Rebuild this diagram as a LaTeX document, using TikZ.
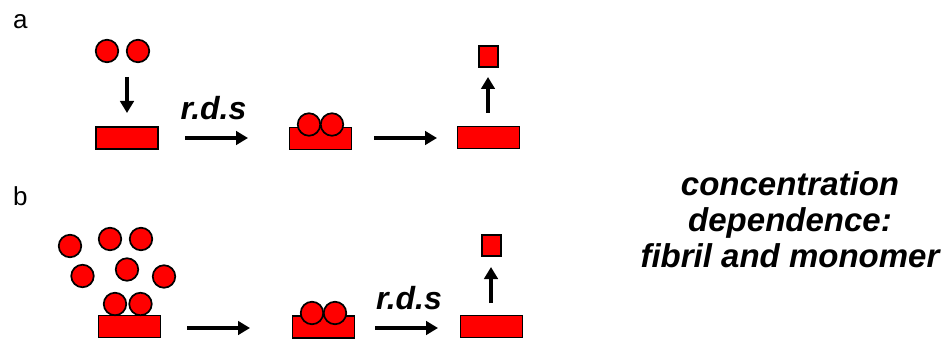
\documentclass[tikz,border=0pt]{standalone}
\usepackage{fontspec}
\setmainfont{Liberation Sans}
\usetikzlibrary{arrows.meta}
\definecolor{protein}{RGB}{255,0,0}
\tikzset{
  mono/.style={circle, draw=black, fill=protein, line width=1.7pt, minimum size=22.5pt, inner sep=0pt},
  fibril/.style={rectangle, draw=black, fill=protein, line width=1.7pt, inner sep=0pt,
                 minimum width=62pt, minimum height=22pt},
  seed/.style={rectangle, draw=black, fill=protein, line width=1.7pt, inner sep=0pt,
               minimum width=19pt, minimum height=21pt},
  conn/.style={line width=3.8pt, -{Triangle[length=12pt,width=13.5pt]}},
  rds/.style={font=\fontsize{32}{36}\selectfont\bfseries\itshape, anchor=base, inner sep=0pt},
  note/.style={font=\fontsize{33}{38}\selectfont\bfseries\itshape, anchor=base, inner sep=0pt},
  panel/.style={font=\fontsize{26}{30}\selectfont, anchor=base west, inner sep=0pt}
}
\begin{document}
\begin{tikzpicture}[x=1pt,y=-1pt]
\useasboundingbox (0,0) rectangle (946,345);

% ---------- panel a ----------
\node[panel] (la) at (13,28.5) {a};
\node[mono] (am1) at (107,51) {};
\node[mono] (am2) at (138,51) {};
\node[fibril] (af1) at (127,138) {};
\coordinate (ad0) at (127,77);
\coordinate (ad1) at (127,113);
\draw[conn] (ad0) -- (ad1);

\coordinate (ah0) at (185,138);
\coordinate (ah1) at (248,138);
\draw[conn] (ah0) -- (ah1);
\node[rds] (ardslbl) at (213.5,120) {r.d.s};

\node[fibril] (af2) at (320.5,138.5) {};
\node[mono] (ab1) at (309,124.5) {};
\node[mono] (ab2) at (332,124.5) {};

\coordinate (ah2) at (374,138);
\coordinate (ah3) at (437,138);
\draw[conn] (ah2) -- (ah3);

\node[fibril] (af3) at (488.5,137.5) {};
\coordinate (au0) at (488,113);
\coordinate (au1) at (488,77);
\draw[conn] (au0) -- (au1);
\node[seed] (as) at (488.5,56.5) {};

% ---------- panel b ----------
\node[panel] (lb) at (13,205) {b};
\node[mono] (bm1) at (70,246) {};
\node[mono] (bm2) at (110,239) {};
\node[mono] (bm3) at (141,239) {};
\node[mono] (bm4) at (82.5,276) {};
\node[mono] (bm5) at (127,269.5) {};
\node[mono] (bm6) at (164,276.5) {};
\node[fibril] (bf1) at (129.5,326.5) {};
\node[mono] (bm7) at (115,304) {};
\node[mono] (bm8) at (140.5,304) {};

\coordinate (bh0) at (187,328);
\coordinate (bh1) at (250,328);
\draw[conn] (bh0) -- (bh1);

\node[fibril] (bf2) at (323.5,327) {};
\node[mono] (bb1) at (312,313) {};
\node[mono] (bb2) at (335,313) {};

\coordinate (bh2) at (375,328);
\coordinate (bh3) at (438,328);
\draw[conn] (bh2) -- (bh3);
\node[rds] (brdslbl) at (409,309) {r.d.s};

\node[fibril] (bf3) at (491.5,326.5) {};
\coordinate (bu0) at (491,303);
\coordinate (bu1) at (491,267);
\draw[conn] (bu0) -- (bu1);
\node[seed] (bs) at (491.5,245.5) {};

% ---------- side note ----------
\node[note] (n1) at (790,195) {concentration};
\node[note] (n2) at (790,231) {dependence:};
\node[note] (n3) at (790,267) {fibril and monomer};
\end{tikzpicture}
\end{document}
